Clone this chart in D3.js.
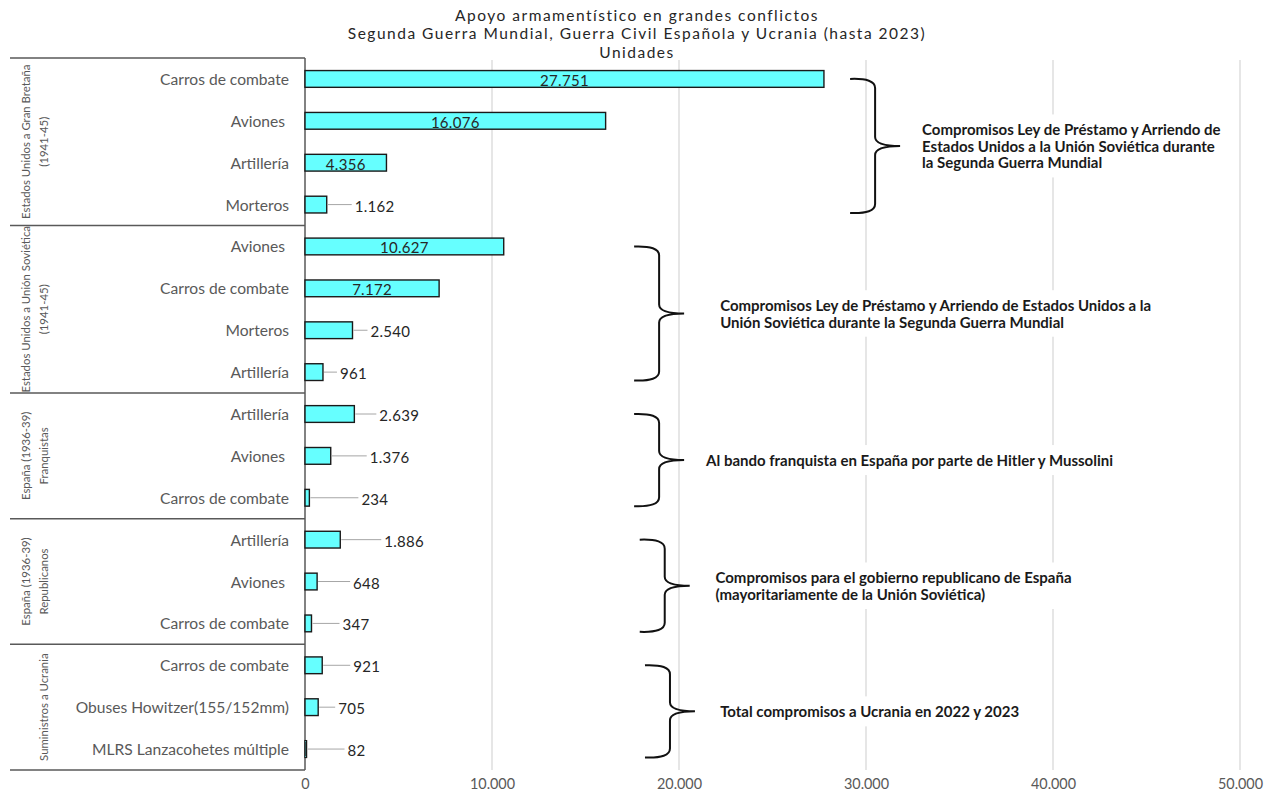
<!DOCTYPE html>
<html><head><meta charset="utf-8">
<script src="https://cdn.jsdelivr.net/npm/d3@7"></script>
<style>body{margin:0;background:#fff}svg{display:block;font-family:Lato,"Open Sans",sans-serif}</style>
</head><body>
<script>
// ---------- DATA ----------
const titleLines = [
  "Apoyo armamentístico en grandes conflictos",
  "Segunda Guerra Mundial, Guerra Civil Española y Ucrania (hasta 2023)",
  "Unidades"
];
const groupLabels = [
  ["Estados Unidos a Gran Bretaña", "(1941-45)"],
  ["Estados Unidos a Unión Soviética", "(1941-45)"],
  ["España (1936-39)", "Franquistas"],
  ["España (1936-39)", "Republicanos"],
  ["", "Suministros a Ucrania"]
];
const groupSizes = [4, 4, 3, 3, 3];
const categories = [
  "Carros de combate", "Aviones ", "Artillería", "Morteros",
  "Aviones ", "Carros de combate", "Morteros", "Artillería",
  "Artillería", "Aviones ", "Carros de combate",
  "Artillería", "Aviones ", "Carros de combate",
  "Carros de combate", "Obuses Howitzer(155/152mm)", "MLRS Lanzacohetes múltiple"
];
const values = [
  27751, 16076, 4356, 1162,
  10627, 7172, 2540, 961,
  2639, 1376, 234,
  1886, 648, 347,
  921, 705, 82
];
const xTicks = [0, 10000, 20000, 30000, 40000, 50000];
const annotationTexts = [
  ["Compromisos Ley de Préstamo y Arriendo de", "Estados Unidos a la Unión Soviética durante", "la Segunda Guerra Mundial"],
  ["Compromisos Ley de Préstamo y Arriendo de Estados Unidos a la", "Unión Soviética durante la Segunda Guerra Mundial"],
  ["Al bando franquista en España por parte de Hitler y Mussolini"],
  ["Compromisos para el gobierno republicano de España", "(mayoritariamente de la Unión Soviética)"],
  ["Total compromisos a Ucrania en 2022 y 2023"]
];

// ---------- LAYOUT (not data) ----------
const W = 1266, H = 793;
const plotLeft = 305, plotRight = 1240, plotTop = 58, plotBottom = 770;
const frameLeft = 10;
// callout gap (px) between bar end and outside value label; null = label inside bar
const calloutGap = [null, null, null, 28, null, null, 18, 17, 25, 39, 52, 44, 36, 31, 31, 20, 41];
// brace left tip and annotation text start, in axis units
const braceAt = [29150, 17600, 17600, 17900, 18180];
const annotAt = [33000, 22200, 21450, 21950, 22200];

const esLocale = d3.formatLocale({decimal: ",", thousands: ".", grouping: [3], currency: ["", " €"]});
const fmt = esLocale.format(",d");

const svg = d3.select("body").append("svg").attr("width", W).attr("height", H);

const x = d3.scaleLinear().domain([0, 50000]).range([plotLeft, plotRight]);
const y = d3.scaleBand().domain(d3.range(values.length)).range([plotTop, plotBottom])
  .paddingInner(0.6).paddingOuter(0.3);

const groupStart = groupSizes.map((s, i) => d3.sum(groupSizes.slice(0, i)));
const groupEnd = groupSizes.map((s, i) => groupStart[i] + s - 1);
const bandTop = i => plotTop + i * y.step();
const cy = i => y(i) + y.bandwidth() / 2;

// title
svg.append("g").selectAll("text").data(titleLines).join("text")
  .attr("x", 637).attr("y", (d, i) => 20.5 + i * 18.5)
  .attr("text-anchor", "middle")
  .style("font-size", "15.5px").style("letter-spacing", "1.5px").style("fill", "#262626")
  .text(d => d);

// gridlines
svg.append("g").selectAll("line").data(xTicks.filter(t => t > 0)).join("line")
  .attr("x1", d => x(d)).attr("x2", d => x(d))
  .attr("y1", plotTop + 2).attr("y2", plotBottom)
  .attr("stroke", "#d9d9d9").attr("stroke-width", 1.3);

// x axis labels
const xAxis = d3.axisBottom(x).tickValues(xTicks).tickSize(0).tickPadding(9).tickFormat(fmt);
const gx = svg.append("g").attr("transform", `translate(0,${plotBottom})`).call(xAxis);
gx.select(".domain").remove();
gx.selectAll("text").style("font-family", "Lato").style("font-size", "14.4px").style("fill", "#595959");

// group frame lines
const sepY = [plotTop].concat(groupEnd.map(e => bandTop(e + 1)));
svg.append("g").selectAll("line").data(sepY).join("line")
  .attr("x1", frameLeft).attr("x2", plotLeft)
  .attr("y1", d => d).attr("y2", d => d)
  .attr("stroke", "#595959").attr("stroke-width", 1.5);
svg.append("line").attr("x1", plotLeft).attr("x2", plotLeft)
  .attr("y1", plotTop).attr("y2", plotBottom)
  .attr("stroke", "#595959").attr("stroke-width", 1.5);

// group labels (rotated)
const gl = svg.append("g").selectAll("g").data(groupLabels).join("g")
  .attr("transform", (d, i) => {
    const mid = (bandTop(groupStart[i]) + bandTop(groupEnd[i] + 1)) / 2;
    return `translate(0,${mid})`;
  });
gl.selectAll("text").data(d => d).join("text")
  .attr("transform", (d, j) => `translate(${25 + j * 18},0) rotate(-90)`)
  .attr("text-anchor", "middle").attr("dominant-baseline", "central")
  .style("font-size", "11.4px").style("fill", "#595959")
  .text(d => d);

// category labels
svg.append("g").selectAll("text").data(categories).join("text")
  .attr("x", 289).attr("y", (d, i) => cy(i))
  .attr("text-anchor", "end").attr("dominant-baseline", "central")
  .style("white-space", "pre")
  .style("font-size", "15.6px").style("fill", "#595959")
  .text(d => d);

// bars
svg.append("g").selectAll("rect").data(values).join("rect")
  .attr("x", x(0)).attr("y", (d, i) => y(i))
  .attr("width", d => x(d) - x(0)).attr("height", y.bandwidth())
  .attr("fill", "#66ffff").attr("stroke", "#1a1a1a").attr("stroke-width", 1.4);

// value labels with leader lines
const outside = values.map((v, i) => calloutGap[i] != null);
svg.append("g").selectAll("line").data(values.map((v, i) => i).filter(i => outside[i])).join("line")
  .attr("x1", i => x(values[i]) + 1).attr("x2", i => x(values[i]) + calloutGap[i] - 3)
  .attr("y1", i => cy(i)).attr("y2", i => cy(i))
  .attr("stroke", "#a6a6a6").attr("stroke-width", 1);

svg.append("g").selectAll("text").data(values).join("text")
  .attr("x", (d, i) => outside[i] ? x(d) + calloutGap[i] : (x(0) + x(d)) / 2)
  .attr("y", (d, i) => cy(i) + 1)
  .attr("text-anchor", (d, i) => outside[i] ? "start" : "middle")
  .attr("dominant-baseline", "central")
  .style("font-size", "15px").style("letter-spacing", "0.3px").style("fill", "#262626")
  .text(d => fmt(d));

// braces + annotations
const braceW = 50, braceR = 9;
function bracePath(x0, y0, y1) {
  const xs = x0 + braceW / 2, xp = x0 + braceW, ym = (y0 + y1) / 2;
  return `M${x0},${y0} Q${xs},${y0 - 1} ${xs},${y0 + braceR} L${xs},${ym - braceR} Q${xs},${ym} ${xp},${ym}` +
    ` Q${xs},${ym} ${xs},${ym + braceR} L${xs},${y1 - braceR} Q${xs},${y1 + 1} ${x0},${y1}`;
}
const ann = svg.append("g");
groupSizes.forEach((s, i) => {
  const y0 = cy(groupStart[i]);
  const y1 = cy(groupEnd[i]) + y.bandwidth() / 2;
  const ym = (y0 + y1) / 2;
  const lines = annotationTexts[i];
  const lh = 16.5;
  const tx = x(annotAt[i]);
  const g = ann.append("g");
  const rect = g.append("rect").attr("fill", "#fff");
  const t = g.append("text").style("font-size", "15px").style("font-weight", 700).style("fill", "#1a1a1a");
  t.selectAll("tspan").data(lines).join("tspan")
    .attr("x", tx).attr("y", (d, j) => ym + (j - (lines.length - 1) / 2) * lh)
    .attr("dominant-baseline", "central")
    .text(d => d);
  const bb = t.node().getBBox();
  rect.attr("x", bb.x - 8).attr("y", bb.y - 6).attr("width", bb.width + 16).attr("height", bb.height + 12);
  ann.append("path").attr("d", bracePath(x(braceAt[i]), y0, y1))
    .attr("fill", "none").attr("stroke", "#111").attr("stroke-width", 2);
});
</script>
</body></html>
